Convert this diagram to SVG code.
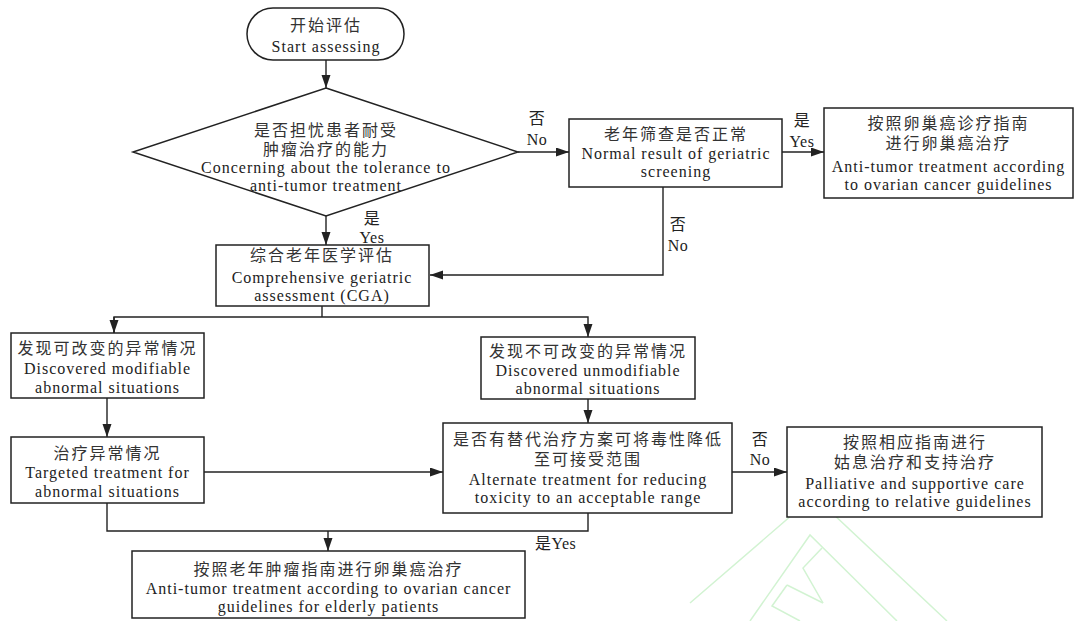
<svg xmlns="http://www.w3.org/2000/svg" width="1075" height="621" viewBox="0 0 1075 621">
<style>
.box{fill:#fff;stroke:#222;stroke-width:1.5}
.ln{fill:none;stroke:#222;stroke-width:1.4}
.zh{font-family:"Liberation Serif","Noto Sans CJK SC",serif;font-size:16px;letter-spacing:2px;fill:#333;text-anchor:middle}
.en{font-family:"Liberation Serif","Noto Sans CJK SC",serif;font-size:16px;letter-spacing:1px;fill:#222;text-anchor:middle}
.lb{font-family:"Liberation Serif","Noto Sans CJK SC",serif;font-size:16px;letter-spacing:0.5px;fill:#222;text-anchor:middle}
.wm{fill:none;stroke:#d2f3d2;stroke-width:1.5}
</style>
<defs>
<marker id="ah" markerUnits="userSpaceOnUse" markerWidth="14" markerHeight="10" refX="13" refY="4.5" orient="auto">
<path d="M0,0 L13,4.5 L0,9 z" fill="#222"/>
</marker>
</defs>
<rect width="1075" height="621" fill="#fff"/>
<g id="watermark">
<polyline class="wm" points="690,603 814,496 947,621"/>
<polyline class="wm" points="750,621 810,535 897,621"/>
<polyline class="wm" points="822,548 803,568 823,603"/>
<polyline class="wm" points="787,585 772,606 800,621"/>
<line class="wm" x1="787" y1="585" x2="823" y2="603"/>
</g>
<g id="connectors">
<line class="ln" x1="326" y1="60" x2="326" y2="88" marker-end="url(#ah)"/>
<line class="ln" x1="518" y1="152" x2="569" y2="152" marker-end="url(#ah)"/>
<line class="ln" x1="782" y1="152" x2="824" y2="152" marker-end="url(#ah)"/>
<line class="ln" x1="326" y1="216" x2="326" y2="245" marker-end="url(#ah)"/>
<polyline class="ln" points="663,187 663,275 430,275" marker-end="url(#ah)"/>
<line class="ln" x1="322" y1="306" x2="322" y2="317"/>
<polyline class="ln" points="114,333 114,317 588,317 588,337" marker-end="url(#ah)"/>
<line class="ln" x1="114" y1="317" x2="114" y2="333" marker-end="url(#ah)"/>
<line class="ln" x1="107" y1="398" x2="107" y2="437" marker-end="url(#ah)"/>
<line class="ln" x1="204" y1="472" x2="443" y2="472" marker-end="url(#ah)"/>
<line class="ln" x1="588" y1="399" x2="588" y2="423" marker-end="url(#ah)"/>
<line class="ln" x1="732" y1="472" x2="787" y2="472" marker-end="url(#ah)"/>
<polyline class="ln" points="107,503 107,531 588,531 588,513"/>
<line class="ln" x1="328" y1="531" x2="328" y2="551" marker-end="url(#ah)"/>
<text class="lb" x="537" y="124">否</text>
<text class="lb" x="537" y="145">No</text>
<text class="lb" x="802" y="126">是</text>
<text class="lb" x="802" y="147">Yes</text>
<text class="lb" x="372" y="224">是</text>
<text class="lb" x="372" y="243">Yes</text>
<text class="lb" x="678" y="230">否</text>
<text class="lb" x="678" y="251">No</text>
<text class="lb" x="760" y="445">否</text>
<text class="lb" x="760" y="465">No</text>
<text class="lb" x="535" y="549" style="text-anchor:start">是Yes</text>
</g>
<g id="start">
<rect class="box" x="247" y="8" width="157" height="52" rx="26" ry="26"/>
<text class="zh" x="326" y="31">开始评估</text>
<text class="en" x="326" y="52">Start assessing</text>
</g>
<g id="concern">
<polygon class="box" points="326,88 518,152 326,216 133,152"/>
<text class="zh" x="326" y="136">是否担忧患者耐受</text>
<text class="zh" x="326" y="154.5">肿瘤治疗的能力</text>
<text class="en" x="326" y="173">Concerning about the tolerance to</text>
<text class="en" x="326" y="191">anti-tumor treatment</text>
</g>
<g id="screening">
<rect class="box" x="569" y="119" width="213" height="68"/>
<text class="zh" x="676" y="140">老年筛查是否正常</text>
<text class="en" x="676" y="158.5">Normal result of geriatric</text>
<text class="en" x="676" y="177">screening</text>
</g>
<g id="ovarian">
<rect class="box" x="824" y="108" width="249" height="90"/>
<text class="zh" x="948.5" y="129">按照卵巢癌诊疗指南</text>
<text class="zh" x="948.5" y="149">进行卵巢癌治疗</text>
<text class="en" x="948.5" y="172">Anti-tumor treatment according</text>
<text class="en" x="948.5" y="190">to ovarian cancer guidelines</text>
</g>
<g id="cga">
<rect class="box" x="216" y="245" width="213" height="61"/>
<text class="zh" x="322" y="261">综合老年医学评估</text>
<text class="en" x="322" y="283">Comprehensive geriatric</text>
<text class="en" x="322" y="301">assessment (CGA)</text>
</g>
<g id="modifiable">
<rect class="box" x="11" y="333" width="193" height="65"/>
<text class="zh" x="107.5" y="354">发现可改变的异常情况</text>
<text class="en" x="107.5" y="374">Discovered modifiable</text>
<text class="en" x="107.5" y="392.5">abnormal situations</text>
</g>
<g id="unmodifiable">
<rect class="box" x="481" y="337" width="214" height="62"/>
<text class="zh" x="588" y="357">发现不可改变的异常情况</text>
<text class="en" x="588" y="376">Discovered unmodifiable</text>
<text class="en" x="588" y="394">abnormal situations</text>
</g>
<g id="targeted">
<rect class="box" x="11" y="437" width="193" height="66"/>
<text class="zh" x="107.5" y="459">治疗异常情况</text>
<text class="en" x="107.5" y="478">Targeted treatment for</text>
<text class="en" x="107.5" y="496.5">abnormal situations</text>
</g>
<g id="alternate">
<rect class="box" x="443" y="423" width="289" height="90"/>
<text class="zh" x="588" y="444.5">是否有替代治疗方案可将毒性降低</text>
<text class="zh" x="588" y="464.5">至可接受范围</text>
<text class="en" x="588" y="485">Alternate treatment for reducing</text>
<text class="en" x="588" y="503">toxicity to an acceptable range</text>
</g>
<g id="palliative">
<rect class="box" x="787" y="427" width="255" height="90"/>
<text class="zh" x="915" y="448">按照相应指南进行</text>
<text class="zh" x="915" y="468">姑息治疗和支持治疗</text>
<text class="en" x="915" y="488.5">Palliative and supportive care</text>
<text class="en" x="915" y="507">according to relative guidelines</text>
</g>
<g id="elderly">
<rect class="box" x="132" y="551" width="393" height="67"/>
<text class="zh" x="328.5" y="574.5">按照老年肿瘤指南进行卵巢癌治疗</text>
<text class="en" x="328.5" y="594">Anti-tumor treatment according to ovarian cancer</text>
<text class="en" x="328.5" y="612">guidelines for elderly patients</text>
</g>
</svg>
